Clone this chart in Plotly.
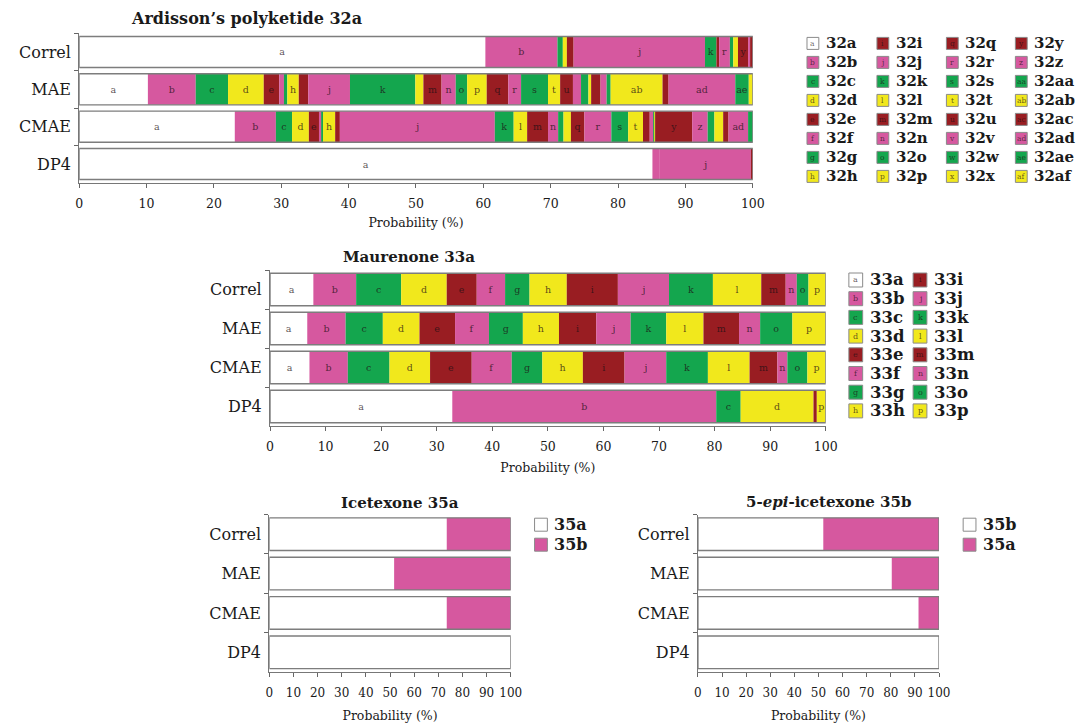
import numpy as np
import plotly.graph_objects as go

W, H = 1086, 723
FONT = "DejaVu Serif"

METHODS = ["Correl", "MAE", "CMAE", "DP4"]

# ---- Ardisson's polyketide: isomers 32a .. 32af (probability %, per method)
ISO_32 = ["a", "b", "c", "d", "e", "f", "g", "h", "i", "j", "k", "l", "m", "n", "o", "p",
          "q", "r", "s", "t", "u", "v", "w", "x", "y", "z", "aa", "ab", "ac", "ad", "ae", "af"]
P32_CORREL = [60.3, 10.7, 0.8, 0.6, 1.0, 0, 0, 0, 0, 19.5, 1.7, 0, 0.4, 0, 0, 0,
              0, 1.6, 0.5, 0.7, 0, 0, 0, 0, 1.5, 0.3, 0, 0, 0.4, 0, 0, 0]
P32_MAE = [10.2, 7.1, 4.8, 5.3, 2.3, 0.7, 0.5, 1.7, 1.4, 6.2, 9.7, 1.2, 2.7, 2.1, 1.7, 2.9,
           3.2, 1.9, 4.0, 1.8, 1.9, 1.2, 1.1, 0.4, 1.4, 0.9, 0.6, 7.7, 0.9, 9.9, 2.0, 0.6]
P32_CMAE = [23.1, 6.1, 2.4, 2.5, 1.5, 0.4, 0.2, 1.8, 0.7, 23.0, 2.8, 2.0, 3.1, 1.5, 0.8, 1.1,
            2.0, 4.0, 2.5, 2.2, 1.0, 0.6, 0.1, 0.1, 5.5, 2.3, 1.0, 1.3, 0.8, 2.9, 0.7, 0]
P32_DP4 = [85.1, 1.1, 0, 0, 0, 0, 0, 0, 0, 13.5, 0, 0, 0, 0, 0, 0,
           0, 0, 0, 0, 0, 0, 0, 0, 0.3, 0, 0, 0, 0, 0, 0, 0]

# ---- Maurenone: isomers 33a .. 33p
ISO_33 = ["a", "b", "c", "d", "e", "f", "g", "h", "i", "j", "k", "l", "m", "n", "o", "p"]
P33_CORREL = [7.8, 7.7, 8.1, 8.2, 5.4, 5.1, 4.4, 6.7, 9.2, 9.2, 7.9, 8.7, 4.4, 2.0, 2.1, 3.1]
P33_MAE = [6.7, 6.9, 6.7, 6.6, 6.4, 6.1, 6.1, 6.5, 6.7, 6.2, 6.4, 6.7, 6.4, 3.8, 5.8, 6.0]
P33_CMAE = [7.1, 6.9, 7.5, 7.3, 7.5, 7.2, 5.5, 7.3, 7.5, 7.5, 7.5, 7.5, 5.0, 1.8, 3.6, 3.3]
P33_DP4 = [32.8, 47.5, 4.4, 13.1, 0, 0, 0, 0, 0, 0, 0, 0, 0.6, 0, 0, 1.6]

# ---- Icetexone 35a vs 35b
ISO_35A = ["35a", "35b"]
P35A = {"35a": [73.5, 51.7, 73.5, 100.0], "35b": [26.5, 48.3, 26.5, 0.0]}

# ---- 5-epi-icetexone 35b vs 35a
ISO_35B = ["35b", "35a"]
P35B = {"35b": [52.0, 80.4, 91.5, 100.0], "35a": [48.0, 19.6, 8.5, 0.0]}

WHITE = "#ffffff"
PINK = "#d6589f"
GREEN = "#14a64e"
YELLOW = "#f1e81c"
DARKRED = "#991d22"
CYCLE = [PINK, GREEN, YELLOW, DARKRED]
OUTLINE = "#7d7d7d"
TXT = "#1a1a1a"


def iso_color(i):
    return WHITE if i == 0 else CYCLE[(i - 1) % 4]


def fx(px):
    return px / W


def fy(py):
    return 1 - py / H


fig = go.Figure()


def add_stack(names, rows, colors, xa, ya, labels=True, min_label=1.45):
    """Stacked horizontal segments, one trace per isomer, plus a frame per row."""
    vals = np.array(rows, dtype=float)          # shape (methods, isomers)
    bases = np.cumsum(vals, axis=1) - vals
    for i, name in enumerate(names):
        seg = vals[:, i]
        text = [name if (labels and v >= min_label) else "" for v in seg]
        fig.add_trace(go.Bar(
            y=METHODS, x=seg, base=bases[:, i], orientation="h",
            marker=dict(color=colors[i], line=dict(width=0)),
            text=text, textposition="inside", insidetextanchor="middle",
            textangle=0, constraintext="none",
            textfont=dict(family=FONT, size=9.5, color="rgba(30,15,20,0.75)"),
            xaxis=xa, yaxis=ya, showlegend=False, hoverinfo="skip",
        ))
    fig.add_trace(go.Bar(
        y=METHODS, x=vals.sum(axis=1), base=[0] * len(METHODS), orientation="h",
        marker=dict(color="rgba(0,0,0,0)", line=dict(color=OUTLINE, width=1.4)),
        xaxis=xa, yaxis=ya, showlegend=False, hoverinfo="skip",
    ))


rows32 = [P32_CORREL, P32_MAE, P32_CMAE, P32_DP4]
add_stack(ISO_32, rows32, [iso_color(i) for i in range(len(ISO_32))], "x", "y")

rows33 = [P33_CORREL, P33_MAE, P33_CMAE, P33_DP4]
add_stack(ISO_33, rows33, [iso_color(i) for i in range(len(ISO_33))], "x2", "y2")

rows35a = np.array([P35A[k] for k in ISO_35A]).T
add_stack(ISO_35A, rows35a, [WHITE, PINK], "x3", "y3", labels=False)

rows35b = np.array([P35B[k] for k in ISO_35B]).T
add_stack(ISO_35B, rows35b, [WHITE, PINK], "x4", "y4", labels=False)


# ---- axes
def xaxis(domain, anchor, standoff, tsize):
    return dict(
        domain=domain, anchor=anchor, range=[0, 100],
        tickvals=list(range(0, 101, 10)), ticks="outside", ticklen=4, tickcolor="#666",
        showline=True, linecolor="#777", linewidth=1.2,
        showgrid=False, zeroline=False,
        tickfont=dict(family=FONT, size=tsize, color=TXT), ticklabelstandoff=5,
        title=dict(text="Probability (%)", font=dict(family=FONT, size=12.5, color=TXT),
                   standoff=standoff),
    )


def yaxis(domain, anchor):
    return dict(
        domain=domain, anchor=anchor, type="category",
        categoryorder="array", categoryarray=METHODS, range=[3.5, -0.5],
        ticks="outside", tickson="boundaries", ticklen=4, tickcolor="#666",
        showline=True, linecolor="#777", linewidth=1.2,
        showgrid=False, zeroline=False,
        tickfont=dict(family=FONT, size=16, color=TXT), ticklabelstandoff=4,
    )


fig.update_layout(
    width=W, height=H,
    margin=dict(l=0, r=0, t=0, b=0),
    paper_bgcolor="white", plot_bgcolor="white",
    barmode="overlay", bargap=0.17,
    font=dict(family=FONT, color=TXT),
    xaxis=xaxis([fx(76.3), fx(760)], "y", 8, 12.5),
    yaxis=yaxis([fy(182.7), fy(33.3)], "x"),
    xaxis2=xaxis([fx(270), fx(834)], "y2", 10, 12.5),
    yaxis2=yaxis([fy(426), fy(270)], "x2"),
    xaxis3=xaxis([fx(269.3), fx(514.3)], "y3", 13, 12),
    yaxis3=yaxis([fy(672), fy(514.5)], "x3"),
    xaxis4=xaxis([fx(704.3), fx(949)], "y4", 13, 12),
    yaxis4=yaxis([fy(672), fy(514.5)], "x4"),
)

annotations = []
shapes = []


def title(text, cx, cy, size=15):
    annotations.append(dict(
        text=text, x=fx(cx), y=fy(cy), xref="paper", yref="paper",
        xanchor="center", yanchor="middle", showarrow=False,
        font=dict(family=FONT, size=size, color=TXT),
    ))


title("<b>Ardisson’s polyketide 32a</b>", 246, 18, 16)
title("<b>Maurenone 33a</b>", 411, 257)
title("<b>Icetexone 35a</b>", 402, 503)
title("<b>5-<i>epi</i>-icetexone 35b</b>", 837, 502)


def legend_entry(cx, cy, size, color, letter, label, fsize, lsize):
    h = size / 2
    shapes.append(dict(
        type="rect", xref="paper", yref="paper",
        x0=fx(cx - h), x1=fx(cx + h), y0=fy(cy + h), y1=fy(cy - h),
        fillcolor=color, line=dict(color="#8a8a8a", width=1),
    ))
    if letter:
        annotations.append(dict(
            text=letter, x=fx(cx), y=fy(cy), xref="paper", yref="paper",
            xanchor="center", yanchor="middle", showarrow=False,
            font=dict(family=FONT, size=lsize, color="rgba(30,15,20,0.7)"),
        ))
    annotations.append(dict(
        text="<b>" + label + "</b>", x=fx(cx + h + 5), y=fy(cy), xref="paper", yref="paper",
        xanchor="left", yanchor="middle", showarrow=False,
        font=dict(family=FONT, size=fsize, color=TXT),
    ))


# 32 legend: 4 columns x 8 rows, column-major
cols32 = [821, 892, 962.5, 1032.5]
for i, name in enumerate(ISO_32):
    c, r = divmod(i, 8)
    legend_entry(cols32[c], 43.4 + 19 * r, 12, iso_color(i), name, "32" + name, 15, 7.5)

# 33 legend: 2 columns x 8 rows
cols33 = [864.5, 929.7]
for i, name in enumerate(ISO_33):
    c, r = divmod(i, 8)
    legend_entry(cols33[c], 280 + 18.7 * r, 14, iso_color(i), name, "33" + name, 16.5, 8)

# 35 legends
for k, (name, col) in enumerate(zip(ISO_35A, [WHITE, PINK])):
    legend_entry(545, 524.7 + 20 * k, 13, col, "", name, 16, 7)
for k, (name, col) in enumerate(zip(ISO_35B, [WHITE, PINK])):
    legend_entry(980, 524.7 + 20 * k, 13, col, "", name, 16, 7)

fig.update_layout(annotations=annotations, shapes=shapes)

fig.write_html("out.html")
